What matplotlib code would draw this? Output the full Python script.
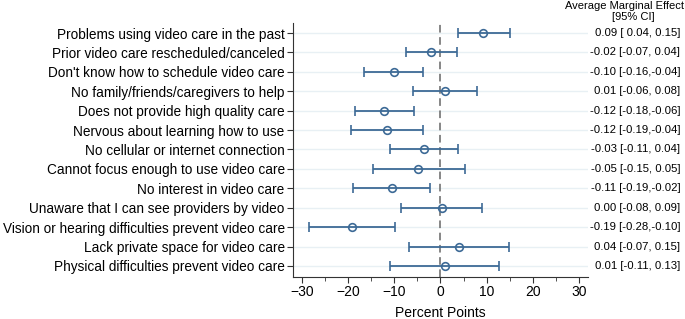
import matplotlib.pyplot as plt
import numpy as np

plt.rcParams["font.family"] = ["Liberation Sans", "DejaVu Sans"]

BARRIERS = [
    "Problems using video care in the past",
    "Prior video care rescheduled/canceled",
    "Don't know how to schedule video care",
    "No family/friends/caregivers to help",
    "Does not provide high quality care",
    "Nervous about learning how to use",
    "No cellular or internet connection",
    "Cannot focus enough to use video care",
    "No interest in video care",
    "Unaware that I can see providers by video",
    "Vision or hearing difficulties prevent video care",
    "Lack private space for video care",
    "Physical difficulties prevent video care",
]
EFFECT = [9.3, -2.0, -10.1, 1.0, -12.2, -11.7, -3.6, -4.8, -10.6, 0.4, -19.3, 4.1, 0.9]
LOWER = [3.9, -7.4, -16.5, -5.9, -18.5, -19.4, -10.9, -14.7, -19.0, -8.5, -28.5, -6.8, -11.0]
UPPER = [15.0, 3.5, -3.7, 8.0, -5.7, -3.9, 3.8, 5.3, -2.2, 9.1, -9.8, 14.8, 12.6]
AME_TEXT = [
    "0.09 [ 0.04, 0.15]",
    "-0.02 [-0.07, 0.04]",
    "-0.10 [-0.16,-0.04]",
    "0.01 [-0.06, 0.08]",
    "-0.12 [-0.18,-0.06]",
    "-0.12 [-0.19,-0.04]",
    "-0.03 [-0.11, 0.04]",
    "-0.05 [-0.15, 0.05]",
    "-0.11 [-0.19,-0.02]",
    "0.00 [-0.08, 0.09]",
    "-0.19 [-0.28,-0.10]",
    "0.04 [-0.07, 0.15]",
    "0.01 [-0.11, 0.13]",
]

COLOR = "#3d6a96"

figure = plt.figure(figsize=(6.85, 3.19), dpi=100)
axis = figure.add_axes([0.4277, 0.1317, 0.4307, 0.7963])

y = np.arange(1, len(BARRIERS) + 1)
effect = np.asarray(EFFECT)
errors = np.vstack([effect - np.asarray(LOWER), np.asarray(UPPER) - effect])

for row in y:
    axis.axhline(row, color="#e8f0f4", linewidth=1.0, zorder=0)
axis.axvline(0, color="#666666", linestyle=(0, (5, 3)), linewidth=1.1, zorder=1)
axis.errorbar(
    effect,
    y,
    xerr=errors,
    fmt="o",
    color=COLOR,
    markerfacecolor="none",
    markeredgecolor=COLOR,
    markersize=5.5,
    markeredgewidth=1.2,
    elinewidth=1.3,
    capsize=3.5,
    capthick=1.3,
    zorder=3,
)

axis.set_xlim(-32, 32)
axis.set_ylim(13.57, 0.48)
axis.set_xticks([-30, -20, -10, 0, 10, 20, 30])
axis.set_xticks([-25, -15, -5, 5, 15, 25], minor=True)
axis.set_yticks(y)
axis.set_yticklabels(BARRIERS, fontsize=9.8)
axis.tick_params(axis="x", labelsize=10, length=4, color="#333333", pad=2)
axis.tick_params(axis="x", which="minor", length=3, color="#333333")
axis.tick_params(axis="y", length=4, color="#333333", pad=2)
axis.set_xlabel("Percent Points", fontsize=10, labelpad=5)
for side in ("top", "right"):
    axis.spines[side].set_visible(False)
for side in ("left", "bottom"):
    axis.spines[side].set_color("#333333")

for row, text in zip(y, AME_TEXT):
    axis.annotate(
        text,
        xy=(1.0, row),
        xycoords=("axes fraction", "data"),
        xytext=(0.993, 0),
        textcoords=("figure fraction", "offset points"),
        ha="right",
        va="center",
        fontsize=8.2,
    )

figure.text(0.998, 0.981, "Average Marginal Effect", ha="right", va="center", fontsize=8)
figure.text(0.924, 0.946, "[95% CI]", ha="center", va="center", fontsize=8)

figure.savefig("out.png", dpi=100)
plt.close(figure)
